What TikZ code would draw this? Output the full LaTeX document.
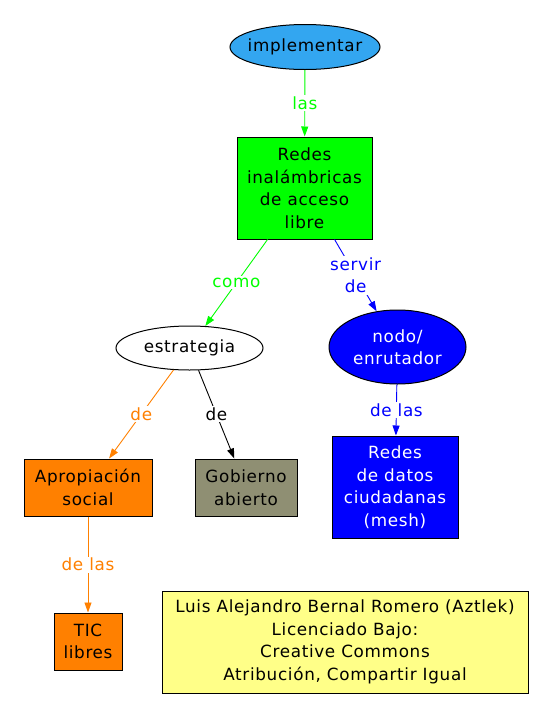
\documentclass[tikz,border=0pt]{standalone}
\usepackage{fontspec}
\setmainfont[LetterSpace=4]{DejaVu Sans}
\usetikzlibrary{shapes.geometric,arrows.meta}

\definecolor{cielo}{RGB}{51,166,240}
\definecolor{verde}{RGB}{0,255,0}
\definecolor{azul}{RGB}{0,0,255}
\definecolor{naranja}{RGB}{255,128,0}
\definecolor{oliva}{RGB}{143,143,115}
\definecolor{amarillo}{RGB}{255,255,136}

\begin{document}
\begin{tikzpicture}[x=1pt, y=-1pt,
    every node/.style={font=\fontsize{16.8}{22.5}\selectfont},
    caja/.style={draw, line width=1pt, rectangle, align=center, inner sep=2pt},
    elipse/.style={draw, line width=1pt, ellipse, align=center, inner sep=1pt},
    flecha/.style={-{Triangle[width=7pt,length=10pt]}, line width=0.9pt},
    etiqueta/.style={fill=white, inner sep=1.5pt, align=center}]
        \useasboundingbox (0,0) rectangle (553,718);
        \node[elipse, fill=cielo, inner xsep=-5pt, minimum width=150pt, minimum height=45pt] (impl) at (305,47) {implementar};
        \node[caja, fill=verde, minimum width=135pt, minimum height=102pt] (inalam) at (304.5,188) {Redes\\inalámbricas\\de acceso\\libre};
        \node[elipse, fill=white, minimum width=147pt, minimum height=44pt] (estra) at (189.5,348) {estrategia};
        \node[elipse, fill=azul, text=white, minimum width=137pt, minimum height=74pt] (nodo) at (397.5,347) {nodo/\\enrutador};
        \node[caja, fill=naranja, minimum width=128pt, minimum height=57pt] (apro) at (88,487.5) {Apropiación\\social};
        \node[caja, fill=oliva, minimum width=102pt, minimum height=57pt] (gob) at (246,487.5) {Gobierno\\abierto};
        \node[caja, fill=azul, text=white, minimum width=126pt, minimum height=102pt] (datos) at (395,487) {Redes\\de datos\\ciudadanas\\(mesh)};
        \node[caja, fill=naranja, minimum width=68pt, minimum height=57pt] (tic) at (88,641.5) {TIC\\libres};
        \node[caja, fill=amarillo, minimum width=366pt, minimum height=102pt] (autor) at (345,642) {Luis Alejandro Bernal Romero (Aztlek)\\Licenciado Bajo:\\Creative Commons\\Atribución, Compartir Igual};
        \draw[flecha, verde] (impl) -- node[etiqueta, text=verde] {las} (inalam);
        \draw[flecha, verde] (inalam) -- node[etiqueta, text=verde] {como} (estra);
        \draw[flecha, azul] (inalam) -- node[etiqueta, text=azul] {servir\\de} (nodo);
        \draw[flecha, naranja] (estra) -- node[etiqueta, text=naranja] {de} (apro);
        \draw[flecha, black] (estra) -- node[etiqueta] {de} (gob);
        \draw[flecha, azul] (nodo) -- node[etiqueta, text=azul] {de las} (datos);
        \draw[flecha, naranja] (apro) -- node[etiqueta, text=naranja] {de las} (tic);
    \end{tikzpicture}
\end{document}
